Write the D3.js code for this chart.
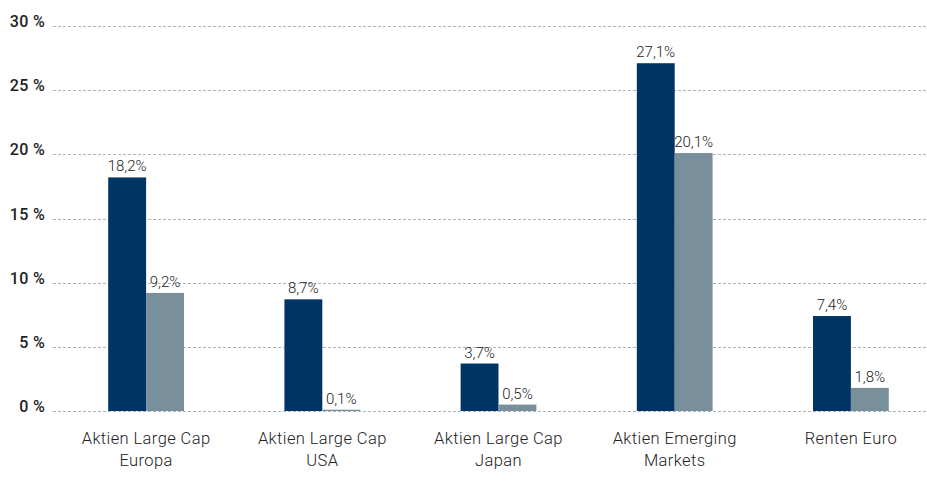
<!DOCTYPE html>
<html>
<head>
<meta charset="utf-8">
<script src="https://cdn.jsdelivr.net/npm/d3@7"></script>
<style>
  body { margin: 0; background: #fff; }
  svg { display: block; font-family: Roboto, "Liberation Sans", sans-serif; }
</style>
</head>
<body>
<svg id="chart" width="927" height="483"></svg>
<script>
const categories = [
  ['Aktien Large Cap', 'Europa'],
  ['Aktien Large Cap', 'USA'],
  ['Aktien Large Cap', 'Japan'],
  ['Aktien Emerging', 'Markets'],
  ['Renten Euro']
];
const seriesA = [18.2, 8.7, 3.7, 27.1, 7.4];
const seriesB = [9.2, 0.1, 0.5, 20.1, 1.8];
const yTicks = [0, 5, 10, 15, 20, 25, 30];

const svg = d3.select('#chart');
const width = 927;

const x = d3.scaleBand()
  .domain(d3.range(categories.length))
  .range([58, 939])
  .paddingInner(0.57)
  .paddingOuter(0.285);

const y = d3.scaleLinear().domain([0, 30]).range([411, 26]);

// grid
svg.append('g')
  .selectAll('line')
  .data(yTicks)
  .enter()
  .append('line')
  .attr('x1', 53)
  .attr('x2', width)
  .attr('y1', (d) => Math.round(y(d)) + 0.5)
  .attr('y2', (d) => Math.round(y(d)) + 0.5)
  .attr('stroke', '#a9b4bd')
  .attr('stroke-width', 1)
  .attr('stroke-dasharray', '3,2');

svg.append('g')
  .selectAll('text')
  .data(yTicks)
  .enter()
  .append('text')
  .attr('x', 45)
  .attr('y', (d) => y(d) + 1)
  .attr('text-anchor', 'end')
  .attr('font-size', 16)
  .attr('font-weight', 500)
  .attr('letter-spacing', '0.3')
  .attr('fill', '#222')
  .text((d) => d + ' %');

const fmt = (v) => v.toFixed(1).replace('.', ',') + '%';
const bw = x.bandwidth() / 2;

const series = [
  { values: seriesA, color: '#003463', offset: 0 },
  { values: seriesB, color: '#798f9b', offset: bw }
];

series.forEach((s) => {
  const g = svg.append('g');
  g.selectAll('rect')
    .data(s.values)
    .enter()
    .append('rect')
    .attr('x', (d, i) => x(i) + s.offset)
    .attr('width', bw)
    .attr('y', (d) => y(d))
    .attr('height', (d) => y(0) - y(d))
    .attr('fill', s.color);

  g.selectAll('text')
    .data(s.values)
    .enter()
    .append('text')
    .attr('x', (d, i) => x(i) + s.offset + bw / 2)
    .attr('y', (d) => y(d) - 6)
    .attr('text-anchor', 'middle')
    .attr('font-size', 15)
    .attr('font-weight', 300)
    .attr('fill', '#222')
    .text(fmt);
});

// category labels
const cat = svg.append('g')
  .selectAll('text')
  .data(categories)
  .enter()
  .append('text')
  .attr('text-anchor', 'middle')
  .attr('font-size', 16.5)
  .attr('font-weight', 300)
  .attr('letter-spacing', '0.4')
  .attr('fill', '#222')
  .attr('x', (d, i) => x(i) + x.bandwidth() / 2)
  .attr('y', 444);

cat.selectAll('tspan')
  .data((d) => d)
  .enter()
  .append('tspan')
  .attr('x', function () { return this.parentNode.getAttribute('x'); })
  .attr('dy', (d, i) => (i === 0 ? 0 : 22))
  .text((d) => d);
</script>
</body>
</html>
